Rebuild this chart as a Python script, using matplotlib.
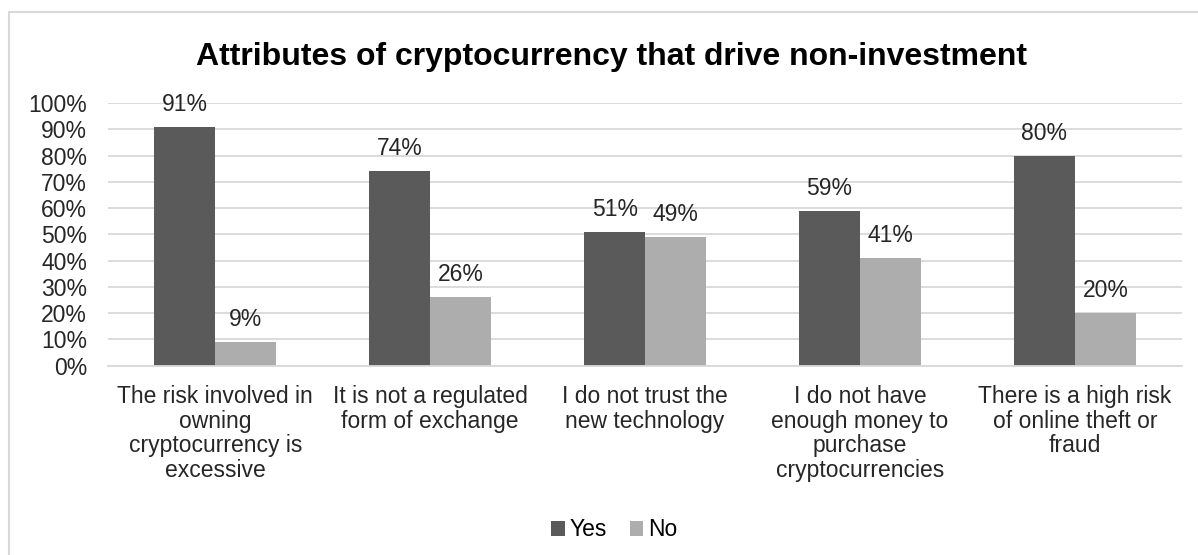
import matplotlib
matplotlib.use("Agg")
import matplotlib.pyplot as plt
import numpy as np
from matplotlib.patches import Rectangle

plt.rcParams['font.family'] = ['Liberation Sans', 'DejaVu Sans']

# datos del grafico
categorias = ["The risk involved in\nowning\ncryptocurrency is\nexcessive",
              "It is not a regulated\nform of exchange",
              "I do not trust the\nnew technology",
              "I do not have\nenough money to\npurchase\ncryptocurrencies",
              "There is a high risk\nof online theft or\nfraud"]
si = [91, 74, 51, 59, 80]
no = [9, 26, 49, 41, 20]
series = ["Yes", "No"]
colores = ["#5A5A5A", "#ADADAD"]

fig = plt.figure(figsize=(11.98, 5.55), dpi=100)
ax = fig.add_axes([0.090, 0.341, 0.897, 0.473])

x = np.arange(len(categorias))
ancho = 0.284

b1 = ax.bar(x - ancho / 2, si, ancho, color=colores[0], label=series[0])
b2 = ax.bar(x + ancho / 2, no, ancho, color=colores[1], label=series[1])

# etiquetas de valor arriba de cada barra
for barras in (b1, b2):
    for b in barras:
        ax.annotate(f"{b.get_height():.0f}%",
                    (b.get_x() + b.get_width() / 2, b.get_height()),
                    xytext=(0, 8), textcoords="offset points",
                    ha="center", va="bottom", fontsize=16.5, color="#262626")

ax.set_xlim(-0.5, len(categorias) - 0.5)
ax.set_ylim(0, 100)
ax.set_yticks(range(0, 101, 10))
ax.set_yticklabels([f"{v}%" for v in range(0, 101, 10)])
ax.set_xticks(x)
ax.set_xticklabels(categorias, linespacing=1.08)

ax.grid(axis="y", color="#D9D9D9", linewidth=1.3)
ax.set_axisbelow(True)
for s in ["top", "right", "left"]:
    ax.spines[s].set_visible(False)
ax.spines["bottom"].set_color("#D9D9D9")
ax.spines["bottom"].set_linewidth(1.3)
ax.tick_params(axis="both", length=0, labelsize=16.5, colors="#262626")
ax.tick_params(axis="y", pad=15)
ax.tick_params(axis="x", pad=14)

fig.suptitle("Attributes of cryptocurrency that drive non-investment",
             x=611 / 1198, y=1 - 57 / 555, va="center", fontsize=23,
             fontweight="bold")

fig.legend(loc="center", bbox_to_anchor=(614 / 1198, 1 - 530 / 555), ncol=2,
           frameon=False, fontsize=16.5, handlelength=0.6, handleheight=0.6,
           handletextpad=0.2, columnspacing=1.0)

# borde del area del grafico
fig.patches.append(Rectangle((9 / 1198, -0.1), 1.2, 1.1 - 12 / 555,
                             transform=fig.transFigure, fill=False,
                             edgecolor="#D9D9D9", linewidth=1.5))

fig.savefig("out.png", dpi=100)
